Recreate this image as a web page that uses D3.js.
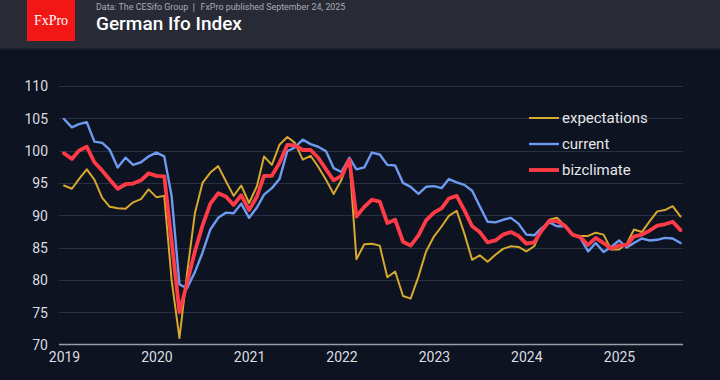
<!DOCTYPE html>
<html>
<head>
<meta charset="utf-8">
<script src="https://cdn.jsdelivr.net/npm/d3@7/dist/d3.min.js"></script>
<style>
  html, body { margin: 0; padding: 0; background: #0d1320; }
  svg { display: block; }
</style>
</head>
<body>
<svg id="chart" width="720" height="380"></svg>
<script>
const startYear = 2019;
const yearTicks = [2019, 2020, 2021, 2022, 2023, 2024, 2025];
const yTicks = [70, 75, 80, 85, 90, 95, 100, 105, 110];

const expectations = [
  94.6, 94.1, 95.6, 97.1, 95.5, 92.7, 91.3, 91.1, 91.0, 92.0, 92.5, 94.0,
  92.8, 93.0, 80.0, 71.0, 81.0, 90.3, 95.0, 96.6, 97.6, 95.3, 93.0, 94.6,
  91.9, 94.5, 99.1, 97.8, 100.9, 102.1, 101.2, 98.6, 99.2, 97.5, 95.5, 93.3,
  95.5, 98.7, 83.2, 85.5, 85.6, 85.3, 80.4, 81.3, 77.5, 77.1, 80.5, 84.4,
  86.7, 88.3, 89.9, 90.7, 87.2, 83.1, 83.8, 82.8, 83.9, 84.8, 85.2, 85.1,
  84.4, 85.2, 87.8, 89.3, 89.6, 88.4, 87.0, 86.8, 86.8, 87.3, 87.0, 84.7,
  84.7, 85.6, 87.8, 87.4, 89.0, 90.6, 90.8, 91.4, 89.8
];
const current = [
  104.9, 103.6, 104.1, 104.4, 101.4, 101.2, 100.1, 97.4, 98.9, 97.8, 98.2, 99.1,
  99.7, 99.1, 93.0, 79.3, 78.7, 81.2, 84.2, 87.8, 89.6, 90.4, 90.3, 91.8,
  89.6, 91.2, 93.2, 94.2, 95.6, 99.9, 100.5, 101.7, 101.0, 100.6, 99.9, 97.3,
  96.7, 98.9, 97.1, 97.4, 99.7, 99.4, 97.8, 97.7, 95.0, 94.4, 93.3, 94.4,
  94.5, 94.2, 95.6, 95.1, 94.7, 93.8, 91.4, 89.0, 88.9, 89.3, 89.6, 88.7,
  87.0, 86.9, 88.0, 88.9, 88.3, 88.3, 87.1, 86.5, 84.4, 85.7, 84.3, 85.1,
  86.1, 85.0, 85.7, 86.4, 86.1, 86.2, 86.5, 86.4, 85.7
];
const bizclimate = [
  99.6, 98.7, 100.0, 100.6, 98.2, 96.9, 95.5, 94.1, 94.8, 94.9, 95.4, 96.5,
  96.1, 96.0, 86.0, 75.0, 79.5, 84.4, 88.4, 91.8, 93.4, 92.9, 91.6, 93.1,
  90.8, 92.9, 96.1, 96.1, 98.1, 100.9, 100.8, 100.1, 100.1, 98.9, 97.1, 95.4,
  96.1, 98.6, 89.8, 91.3, 92.4, 92.1, 88.8, 89.3, 85.9, 85.3, 86.9, 89.2,
  90.4, 91.1, 92.6, 93.0, 90.8, 88.3, 87.4, 85.8, 86.1, 87.0, 87.4, 86.8,
  85.6, 85.8, 87.6, 89.1, 89.1, 88.4, 87.0, 86.6, 85.4, 86.5, 85.7, 84.8,
  85.3, 85.4, 86.7, 87.0, 87.6, 88.4, 88.6, 89.0, 87.7
];

const seriesNames = ["expectations", "current", "bizclimate"];
const seriesColors = ["#d6a92e", "#6d9bf1", "#ff3b48"];
const seriesWidths = [2, 2.4, 3.8];
const seriesData = [expectations, current, bizclimate];

const W = 720, H = 380;
const svg = d3.select("#chart");

// backgrounds
svg.append("rect").attr("x", 0).attr("y", 0).attr("width", W).attr("height", H).attr("fill", "#0d1320");
svg.append("rect").attr("x", 0).attr("y", 0).attr("width", W).attr("height", 48).attr("fill", "#282b36");
svg.append("rect").attr("x", 0).attr("y", 48).attr("width", W).attr("height", 2).attr("fill", "#1c1f29");

// logo
svg.append("rect").attr("x", 27).attr("y", 0).attr("width", 48).attr("height", 41).attr("fill", "#f21616");
svg.append("text").attr("x", 51).attr("y", 25).attr("text-anchor", "middle")
  .attr("font-family", "'Liberation Serif', serif").attr("font-size", 14).attr("fill", "#ffffff")
  .text("FxPro");

svg.append("text").attr("x", 96).attr("y", 10)
  .attr("font-family", "Roboto, sans-serif").attr("font-size", 8.9).attr("fill", "#a9abb2")
  .text("Data: The CESifo Group \u2758 FxPro published September 24, 2025");
svg.append("text").attr("x", 96).attr("y", 30)
  .attr("font-family", "Roboto, sans-serif").attr("font-size", 19).attr("font-weight", 500).attr("fill", "#ffffff")
  .text("German Ifo Index");

// scales
const dates = expectations.map((d, i) => new Date(startYear, i, 1));
const x = d3.scaleTime()
  .domain([new Date(2019, 0, 1), new Date(2025, 0, 1)])
  .range([64, 619]);
const y = d3.scaleLinear().domain([70, 110]).range([344.5, 86]);

// gridlines
const gridG = svg.append("g");
gridG.selectAll("line").data(yTicks.filter(t => t !== 70)).enter().append("line")
  .attr("x1", 59).attr("x2", 683)
  .attr("y1", d => Math.round(y(d)) + 0.5).attr("y2", d => Math.round(y(d)) + 0.5)
  .attr("stroke", "#273040").attr("stroke-width", 1);

// y axis labels
const yAxis = d3.axisLeft(y).tickValues(yTicks).tickSize(0).tickPadding(0);
const yg = svg.append("g").attr("transform", "translate(48,0)").call(yAxis);
yg.select(".domain").remove();
yg.selectAll("text").attr("font-family", "Roboto, sans-serif").attr("font-size", 14)
  .attr("fill", "#dcdde1").attr("dy", "0.35em");

// x axis
const xAxis = d3.axisBottom(x).tickValues(yearTicks.map(yv => new Date(yv, 0, 1)))
  .tickFormat(d3.timeFormat("%Y")).tickSize(0).tickPadding(0);
const xg = svg.append("g").attr("transform", "translate(0,352)").call(xAxis);
xg.select(".domain").remove();
xg.selectAll("text").attr("font-family", "Roboto, sans-serif").attr("font-size", 14)
  .attr("fill", "#dcdde1").attr("dy", "0.71em");

// base line
svg.append("line").attr("x1", 59).attr("x2", 683)
  .attr("y1", y(70)).attr("y2", y(70))
  .attr("stroke", "#9a9ea6").attr("stroke-width", 1.5);

// lines
const line = d3.line().x((d, i) => x(dates[i])).y(d => y(d)).curve(d3.curveLinear);
seriesData.forEach((data, k) => {
  svg.append("path").datum(data)
    .attr("fill", "none")
    .attr("stroke", seriesColors[k])
    .attr("stroke-width", seriesWidths[k])
    .attr("stroke-linejoin", "round")
    .attr("stroke-linecap", "round")
    .attr("d", line);
});

// legend
const lg = svg.append("g");
seriesNames.forEach((name, k) => {
  const yy = 118 + k * 26;
  lg.append("line").attr("x1", 529).attr("x2", 559).attr("y1", yy).attr("y2", yy)
    .attr("stroke", seriesColors[k]).attr("stroke-width", seriesWidths[k]);
  lg.append("text").attr("x", 562).attr("y", yy).attr("dy", "0.35em")
    .attr("font-family", "Roboto, sans-serif").attr("font-size", 15).attr("fill", "#e6e7ea")
    .text(name);
});
</script>
</body>
</html>
